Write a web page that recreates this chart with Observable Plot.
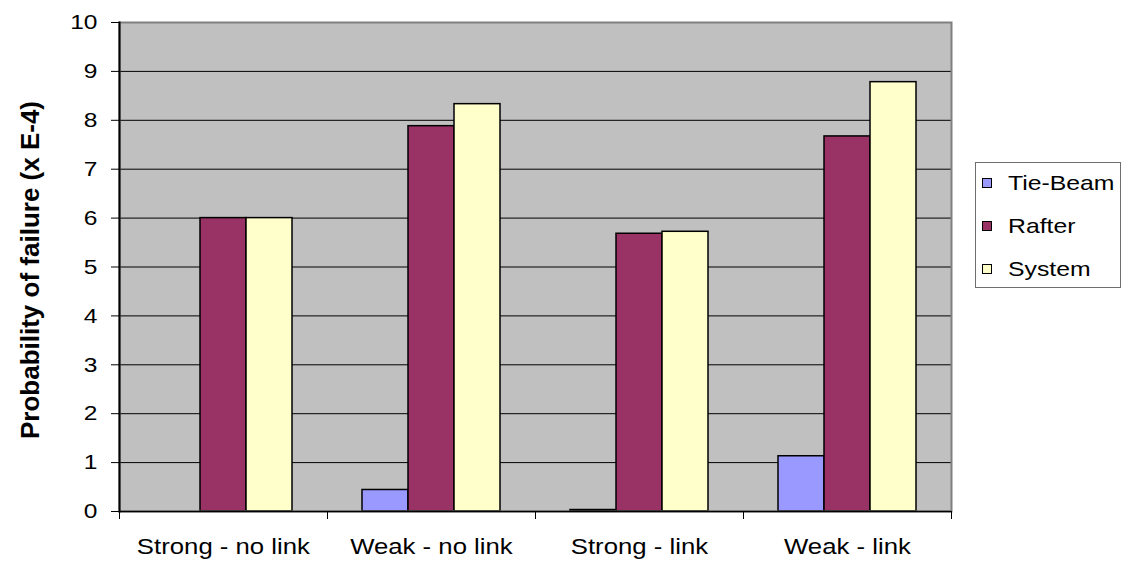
<!DOCTYPE html>
<html>
<head>
<meta charset="utf-8">
<script src="https://cdn.jsdelivr.net/npm/d3@7"></script>
<script src="https://cdn.jsdelivr.net/npm/@observablehq/plot@0.6"></script>
<style>
  body { margin: 0; background: #fff; }
  #chart { position: relative; width: 1122px; height: 567px; font-family: "Liberation Sans", Arial, sans-serif; }
  #chart svg { position: absolute; left: 0; top: 0; }
  #legend { position: absolute; left: 975px; top: 162px; width: 146px; height: 126px;
            box-sizing: border-box; border: 1px solid #6e6e6e; background: #fff; }
  #legend .item { position: absolute; left: 0; height: 24px; display: flex; align-items: center; }
  #legend .sw { position: absolute; left: 6px; width: 10px; height: 10px; box-sizing: border-box; border: 1px solid #000; }
  #legend .lab { position: absolute; left: 32px; font-size: 21px; white-space: nowrap; line-height: 24px;
                 transform: scaleX(1.18); transform-origin: left center; }
</style>
</head>
<body>
<div id="chart"></div>
<script>
// Categories (truss configurations) and the three failure modes
const categories = ["Strong - no link", "Weak - no link", "Strong - link", "Weak - link"];
const series = ["Tie-Beam", "Rafter", "System"];

// Probability of failure (x E-4) per configuration
const tieBeam = [0, 0.44, 0.03, 1.13];
const rafter  = [6.0, 7.88, 5.68, 7.67];
const system  = [6.0, 8.33, 5.72, 8.78];

const seriesColors = ["#9999FF", "#993366", "#FFFFCC"];
const yTicks = [0, 1, 2, 3, 4, 5, 6, 7, 8, 9, 10];
const yTitle = "Probability of failure (x E-4)";

const bySeries = { "Tie-Beam": tieBeam, "Rafter": rafter, "System": system };
const rows = categories.flatMap((category, i) =>
  series.map(member => ({ category, member, value: bySeries[member][i] }))
);

const width = 1122, height = 567;
const marginLeft = 119, marginRight = 171, marginTop = 22, marginBottom = 56;
const halfBand = (width - marginLeft - marginRight) / categories.length / 2;

const plot = Plot.plot({
  width, height, marginLeft, marginRight, marginTop, marginBottom,
  style: { fontFamily: "Liberation Sans, Arial, sans-serif", fontSize: "21px", color: "#000", background: "transparent", overflow: "visible" },
  fx: { domain: categories, padding: 0, label: null, axis: null },
  x: { domain: series, paddingInner: 0, paddingOuter: 0.76, axis: null },
  y: { domain: [0, 10], axis: null },
  color: { domain: series, range: seriesColors },
  marks: [
    // grey plot area
    Plot.frame({ fill: "#c0c0c0", facet: "super" }),
    // horizontal gridlines
    Plot.gridY(yTicks, { stroke: "#000", strokeOpacity: 1, strokeWidth: 1 }),
    // grouped bars
    Plot.barY(rows, { fx: "category", x: "member", y: "value", fill: "member", stroke: "#000", strokeWidth: 1.5 }),
    // plot area border
    Plot.frame({ stroke: "#808080", strokeWidth: 2, facet: "super" }),
    // axis lines
    Plot.frame({ anchor: "left", stroke: "#000", strokeWidth: 2, facet: "super" }),
    Plot.ruleY([0], { stroke: "#000", strokeWidth: 1.5 }),
    // y axis ticks and labels
    Plot.axisY(yTicks, { anchor: "left", tickSize: 8, tickPadding: 14, tickFormat: d => String(d), label: null, fontSize: 21 }),
    // category labels centred under each group
    Plot.axisFx({ anchor: "bottom", tickSize: 0, tickPadding: 27, label: null, fontSize: 22 }),
    // tick marks on the group boundaries
    Plot.axisFx({ anchor: "bottom", tickSize: 8, tickFormat: () => "", label: null, dx: -halfBand }),
    Plot.axisFx({ anchor: "bottom", ticks: [categories[categories.length - 1]], tickSize: 8, tickFormat: () => "", label: null, dx: halfBand }),
    // y axis title
    Plot.text([yTitle], { frameAnchor: "left", textAnchor: "middle", rotate: -90, dx: -89, dy: 3, fontSize: 26, fontWeight: "bold", facet: "super" })
  ]
});

const chart = document.getElementById("chart");
chart.appendChild(plot);

// Widen the axis text horizontally (labels are drawn slightly expanded)
const stretchX = 1.17;
plot.querySelectorAll("text").forEach(el => {
  if (!el.textContent) return;
  if (el.closest("[font-weight='bold']")) return;
  const box = el.getBBox();
  const anchor = getComputedStyle(el).textAnchor;
  const ax = anchor === "end" ? box.x + box.width : anchor === "middle" ? box.x + box.width / 2 : box.x;
  const t = el.getAttribute("transform") || "";
  el.setAttribute("transform", `${t} translate(${ax},0) scale(${stretchX},1) translate(${-ax},0)`);
});

// Legend
const legend = document.createElement("div");
legend.id = "legend";
const rowCenters = [20, 63, 106];
series.forEach((name, i) => {
  const item = document.createElement("div");
  item.className = "item";
  item.style.top = (rowCenters[i] - 12) + "px";
  const sw = document.createElement("span");
  sw.className = "sw";
  sw.style.background = seriesColors[i];
  const lab = document.createElement("span");
  lab.className = "lab";
  lab.textContent = name;
  item.appendChild(sw);
  item.appendChild(lab);
  legend.appendChild(item);
});
chart.appendChild(legend);
</script>
</body>
</html>
